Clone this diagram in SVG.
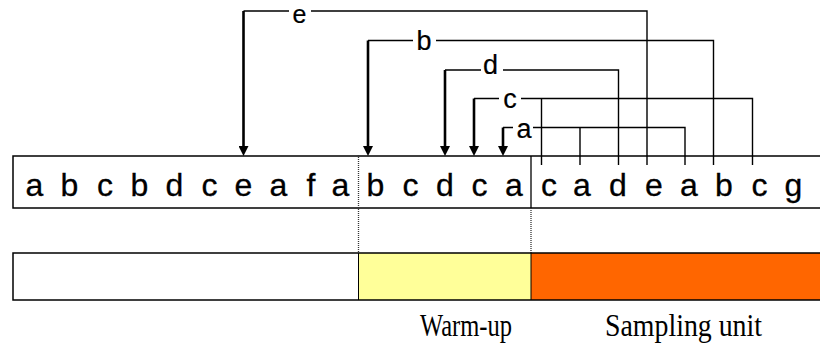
<svg xmlns="http://www.w3.org/2000/svg" width="820" height="347" viewBox="0 0 820 347">
<style>
.seq{font-family:"Liberation Sans",Arial,sans-serif;font-size:32px;fill:#000;stroke:#000;stroke-width:0.3;text-anchor:middle}
.lbl{font-family:"Liberation Sans",Arial,sans-serif;font-size:27px;fill:#000;stroke:#000;stroke-width:0.2;text-anchor:middle}
.cap{font-family:"Liberation Serif","Times New Roman",serif;font-size:32px;fill:#000}
.box{stroke:#000;stroke-width:1.5}
.dot{stroke:#333;stroke-width:1.3;stroke-dasharray:1,1;fill:none}
.ln{stroke:#000;stroke-width:1.4;fill:none}
.sh{stroke:#000;stroke-width:2.6;fill:none}
</style>
<defs>
<marker id="ah" markerUnits="userSpaceOnUse" markerWidth="10" markerHeight="10" refX="2" refY="5" orient="auto">
<path d="M0,0 L10,5 L0,10 z" fill="#000"/>
</marker>
</defs>
<rect width="820" height="347" fill="#fff"/>
<g id="sequence">
<rect class="box" x="13" y="156" width="815" height="52" fill="#fff"/>
<line x1="531" y1="156" x2="531" y2="208" stroke="#000" stroke-width="1.3"/>
<text class="seq" y="195.5"><tspan x="34.5">a</tspan><tspan x="69.5">b</tspan><tspan x="105">c</tspan><tspan x="139.5">b</tspan><tspan x="174.5">d</tspan><tspan x="209.5">c</tspan><tspan x="243.5">e</tspan><tspan x="278.5">a</tspan><tspan x="311">f</tspan><tspan x="340.5">a</tspan></text>
<text class="seq" y="195.5"><tspan x="375.5">b</tspan><tspan x="410.5">c</tspan><tspan x="445">d</tspan><tspan x="479.5">c</tspan><tspan x="514">a</tspan></text>
<text class="seq" y="195.5"><tspan x="549">c</tspan><tspan x="582">a</tspan><tspan x="618">d</tspan><tspan x="654">e</tspan><tspan x="689">a</tspan><tspan x="724">b</tspan><tspan x="759.5">c</tspan><tspan x="793.5">g</tspan></text>
</g>
<g id="separators">
<line class="dot" x1="358.5" y1="155" x2="358.5" y2="253"/>
<line class="dot" x1="531" y1="208" x2="531" y2="253"/>
</g>
<g id="timeline">
<rect x="13" y="253" width="345.5" height="47" fill="#fff"/>
<rect x="358.5" y="253" width="172.5" height="47" fill="#FFFF99"/>
<rect x="531" y="253" width="297" height="47" fill="#FF6600"/>
<rect class="box" x="13" y="253" width="815" height="47" fill="none"/>
<line x1="358.5" y1="253" x2="358.5" y2="300" stroke="#000" stroke-width="1"/>
<line x1="531" y1="253" x2="531" y2="300" stroke="#000" stroke-width="1"/>
</g>
<g id="warmup-label"><text class="cap" x="420" y="336" textLength="92" lengthAdjust="spacingAndGlyphs">Warm-up</text></g>
<g id="sampling-label"><text class="cap" x="605" y="336" textLength="157" lengthAdjust="spacingAndGlyphs">Sampling unit</text></g>
<g id="connectors">
<g id="conn-e">
<path class="sh" d="M243.5,11 V148" marker-end="url(#ah)"/>
<path class="ln" d="M243.5,11 H289 M311,11 H647 V165"/>
<text class="lbl" x="299.5" y="23" style="font-size:25px">e</text>
</g>
<g id="conn-b">
<path class="sh" d="M368,40.5 V148" marker-end="url(#ah)"/>
<path class="ln" d="M368,40.5 H413 M436,40.5 H713.5 V165"/>
<text class="lbl" x="424" y="50">b</text>
</g>
<g id="conn-d">
<path class="sh" d="M445,70 V148" marker-end="url(#ah)"/>
<path class="ln" d="M445,70 H481 M503,70 H618.5 V165"/>
<text class="lbl" x="490.5" y="74">d</text>
</g>
<g id="conn-c">
<path class="sh" d="M474,98.5 V148" marker-end="url(#ah)"/>
<path class="ln" d="M474,98.5 H499 M521,98.5 H752.5 V165 M541.5,98.5 V165"/>
<text class="lbl" x="510" y="108">c</text>
</g>
<g id="conn-a">
<path class="sh" d="M503,127.5 V148" marker-end="url(#ah)"/>
<path class="ln" d="M503,127.5 H513 M533,127.5 H685 V165 M580,127.5 V165"/>
<text class="lbl" x="524" y="138">a</text>
</g>
</g>
</svg>
